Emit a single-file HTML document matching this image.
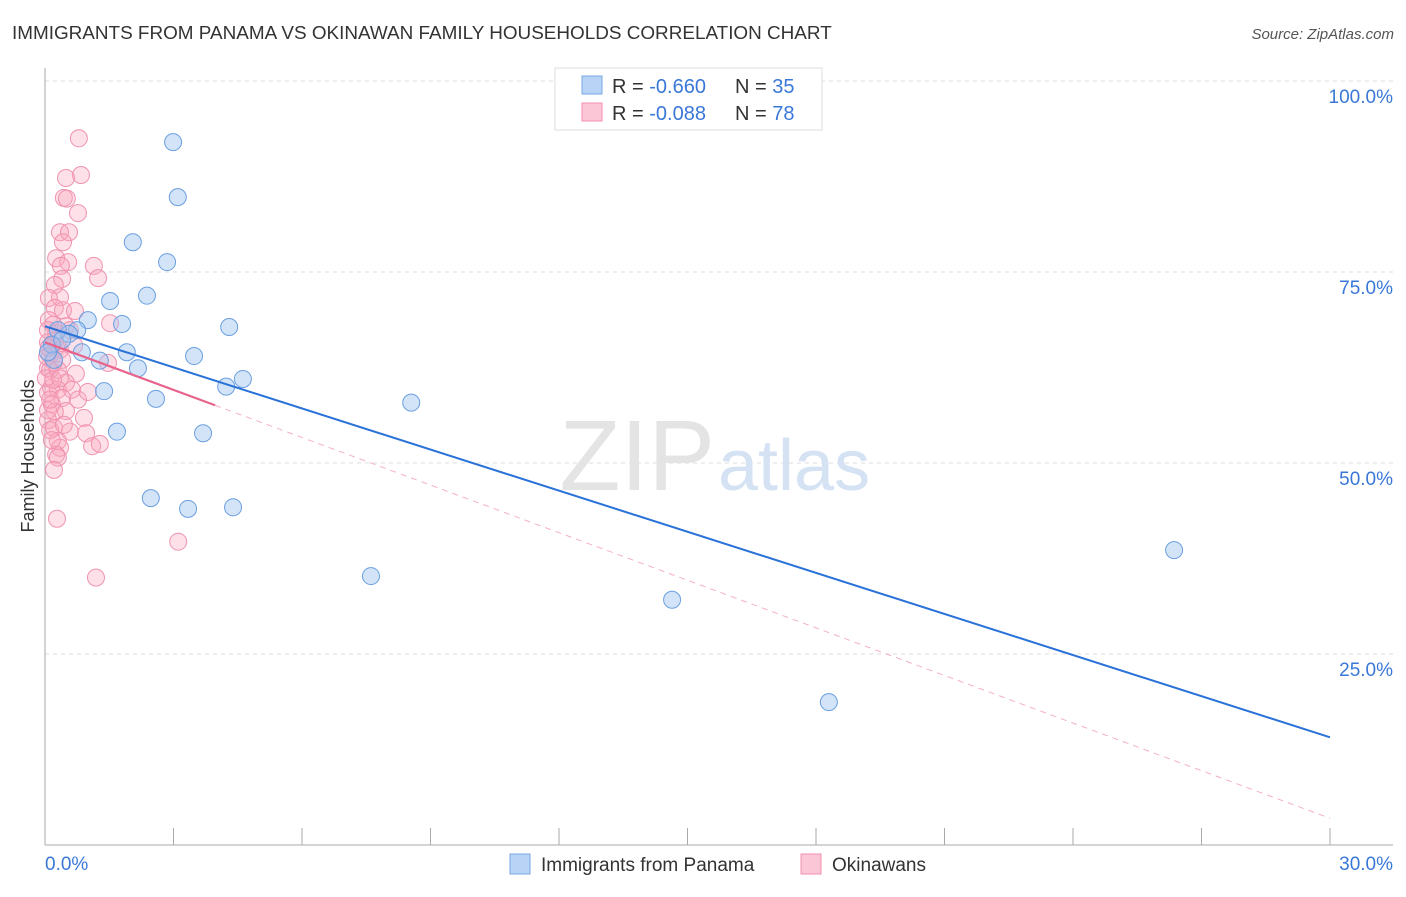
<!DOCTYPE html>
<html><head><meta charset="utf-8"><style>
body{margin:0;background:#fff;font-family:"Liberation Sans",sans-serif;}
svg text{font-family:"Liberation Sans",sans-serif;}
</style></head><body>
<svg id="chart" width="1406" height="892" xmlns="http://www.w3.org/2000/svg">
<text x="12" y="39" font-size="18.9" fill="#333">IMMIGRANTS FROM PANAMA VS OKINAWAN FAMILY HOUSEHOLDS CORRELATION CHART</text>
<text x="1394" y="39" font-size="15" fill="#555" font-style="italic" text-anchor="end">Source: ZipAtlas.com</text>
<text x="34" y="456" font-size="18" fill="#333" text-anchor="middle" transform="rotate(-90 34 456)">Family Households</text>
<g id="grid"></g>
<g id="axes"></g>
<text x="715" y="490" font-size="100" fill="#e4e4e4" text-anchor="end" font-family="Liberation Serif">ZIP</text>
<text x="718" y="490" font-size="72" fill="#d4e2f4">atlas</text>
<g id="points"></g>
<g id="lines"></g>
<g>
<rect x="555" y="68" width="267" height="62" fill="#fff" stroke="#ddd"/>
<rect x="582" y="76" width="20" height="18" fill="#b8d3f5" stroke="#7aa8e6"/>
<rect x="582" y="103" width="20" height="18" fill="#fbc6d6" stroke="#f090b0"/>
<text x="612" y="93" font-size="20" fill="#333">R = <tspan fill="#3a78d8">-0.660</tspan></text>
<text x="735" y="93" font-size="20" fill="#333">N = <tspan fill="#3a78d8">35</tspan></text>
<text x="612" y="120" font-size="20" fill="#333">R = <tspan fill="#3a78d8">-0.088</tspan></text>
<text x="735" y="120" font-size="20" fill="#333">N = <tspan fill="#3a78d8">78</tspan></text>
</g>
<g>
<rect x="510" y="854" width="20" height="20" fill="#b8d3f5" stroke="#7aa8e6"/>
<text x="541" y="871" font-size="19" fill="#333">Immigrants from Panama</text>
<rect x="801" y="854" width="20" height="20" fill="#fbc6d6" stroke="#f090b0"/>
<text x="832" y="871" font-size="19" fill="#333">Okinawans</text>
</g>
</svg>
<script>
const xTicks=[0,3,6,9,12,15,18,21,24,27,30];
const yTicks=[25,50,75,100];
const blueX=[2.99,3.10,2.05,2.85,2.38,1.52,1.00,1.80,0.75,0.56,4.30,1.91,3.48,1.28,0.86,0.21,2.17,4.62,4.23,1.38,2.59,8.55,1.68,3.69,2.47,3.34,4.39,7.61,14.64,18.30,26.36,0.30,0.16,0.07,0.40];
const blueY=[92.0,84.8,78.9,76.3,71.9,71.2,68.7,68.2,67.4,66.9,67.8,64.5,64.0,63.4,64.5,63.5,62.4,61.0,60.0,59.4,58.4,57.9,54.1,53.9,45.4,44.0,44.2,35.2,32.1,18.7,38.6,67.4,65.5,64.5,66.1];
const pinkX=[0.79,0.84,0.49,0.44,0.51,0.77,0.35,0.56,0.42,0.26,0.54,0.37,1.14,1.24,0.40,0.23,0.35,0.09,0.23,0.42,0.70,0.09,0.19,0.49,1.52,0.58,0.26,0.07,0.16,0.26,0.35,0.12,0.21,0.07,1.47,0.72,0.49,0.14,0.30,0.63,0.07,0.40,0.16,0.49,0.23,0.91,0.07,0.21,0.58,0.96,0.30,1.10,1.28,0.35,0.26,0.30,0.21,0.28,1.19,3.11,0.12,0.02,0.05,0.19,0.07,0.12,0.40,0.23,0.07,0.68,0.30,0.09,0.12,0.44,0.16,0.77,1.00,0.35];
const pinkY=[92.5,87.7,87.3,84.7,84.6,82.7,80.2,80.2,78.9,76.8,76.3,75.8,75.8,74.2,74.1,73.3,71.7,71.6,70.3,70.0,69.9,68.7,68.1,67.9,68.3,67.4,67.0,65.8,65.4,65.1,64.8,64.1,63.2,62.4,63.1,61.7,60.5,59.8,59.6,59.6,59.2,58.5,57.7,56.8,56.7,55.9,55.6,54.6,54.1,53.9,52.9,52.2,52.5,52.0,51.1,50.7,49.1,42.7,35.0,39.7,62.2,61.1,63.9,60.9,56.9,54.3,63.5,66.1,67.4,65.4,62.2,65.1,58.3,55.0,53.0,58.3,59.3,61.1];
const blueTrend=[67.9,14.1];
const pinkTrend=[65.8,3.5];
const pinkSolidEnd=3.97;
const NS="http://www.w3.org/2000/svg";
const X=v=>45+v/30*1285, Y=v=>845-v/100*764;
function mk(tag,attrs,parent){const e=document.createElementNS(NS,tag);for(const k in attrs)e.setAttribute(k,attrs[k]);parent.appendChild(e);return e;}
const grid=document.getElementById('grid'),axes=document.getElementById('axes'),pts=document.getElementById('points'),lines=document.getElementById('lines');
yTicks.forEach(t=>{
 const l=mk('line',{x1:45,x2:1393,y1:Y(t),y2:Y(t),stroke:'#ddd','stroke-dasharray':'4,4'},grid);
 
 
 const tx=mk('text',{x:1393,y:Y(t)+22,'font-size':19,fill:'#3a78d8','text-anchor':'end'},axes);
 tx.textContent=t.toFixed(1)+'%';
 
 
});
mk('line',{x1:45,x2:45,y1:68,y2:845,stroke:'#aaa'},axes);
mk('line',{x1:45,x2:1393,y1:845,y2:845,stroke:'#aaa'},axes);
xTicks.forEach(t=>{
 const l=mk('line',{x1:X(t),x2:X(t),y1:828,y2:845,stroke:'#aaa'},axes);
 
 
});
[[0,'start'],[30,'end']].forEach(([t,a])=>{
 const tx=mk('text',{x:t==0?45:1393,y:870,'font-size':19,fill:'#3a78d8','text-anchor':a},axes);
 tx.textContent=t.toFixed(1)+'%';
 
 
});
pinkX.forEach((v,i)=>{
 const c=mk('circle',{cx:X(v),cy:Y(pinkY[i]),r:8.5,fill:'rgba(248,165,190,0.35)',stroke:'#f093b0','stroke-width':1},pts);
 
 
});
blueX.forEach((v,i)=>{
 const c=mk('circle',{cx:X(v),cy:Y(blueY[i]),r:8.5,fill:'rgba(160,196,240,0.45)',stroke:'#6a9fe0','stroke-width':1},pts);
 
 
});
const bl=mk('line',{x1:X(0),y1:Y(blueTrend[0]),x2:X(30),y2:Y(blueTrend[1]),stroke:'#2a72d8','stroke-width':2},lines);


const pAt=x=>pinkTrend[0]+(pinkTrend[1]-pinkTrend[0])*x/30;
const pd=mk('line',{x1:X(pinkSolidEnd),y1:Y(pAt(pinkSolidEnd)),x2:X(30),y2:Y(pinkTrend[1]),stroke:'#f4b0c4','stroke-width':1,'stroke-dasharray':'6,5'},lines);


const ps=mk('line',{x1:X(0),y1:Y(pinkTrend[0]),x2:X(pinkSolidEnd),y2:Y(pAt(pinkSolidEnd)),stroke:'#e8648c','stroke-width':2.2},lines);


</script>
</body></html>
